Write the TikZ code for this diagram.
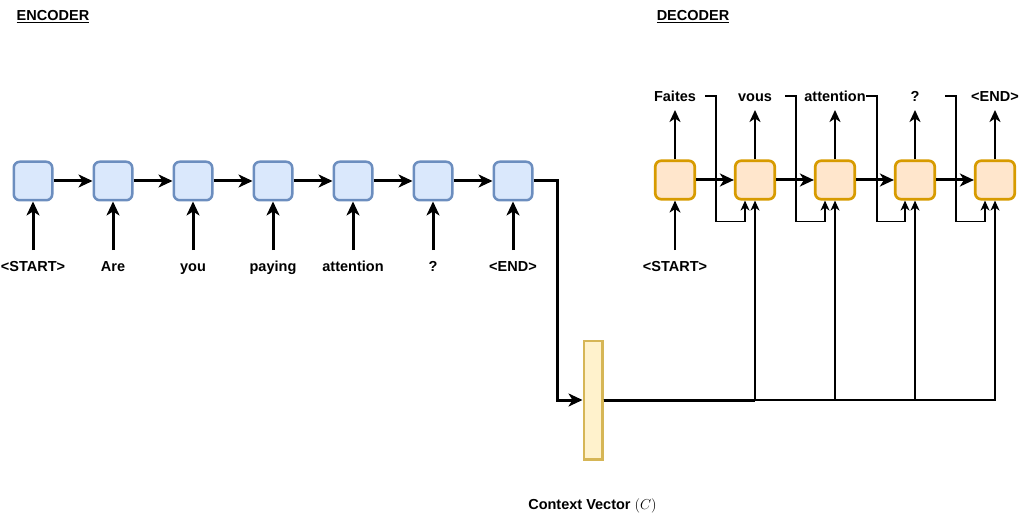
\documentclass[tikz,border=0pt]{standalone}
\usepackage{fontspec}
\setmainfont{Liberation Sans}
\usetikzlibrary{arrows.meta}

\definecolor{encfill}{HTML}{DAE8FC}
\definecolor{encline}{HTML}{6C8EBF}
\definecolor{decfill}{HTML}{FFE6CC}
\definecolor{decline}{HTML}{D79B00}
\definecolor{ctxfill}{HTML}{FFF2CC}
\definecolor{ctxline}{HTML}{D6B656}

\tikzset{
    encbox/.style={draw=encline, fill=encfill, line width=2.5pt, rounded corners=6pt,
                   minimum width=38.5pt, minimum height=38.5pt, inner sep=0pt},
    decbox/.style={draw=decline, fill=decfill, line width=2.7pt, rounded corners=6pt,
                   minimum width=39.5pt, minimum height=38.5pt, inner sep=0pt},
    ctxbox/.style={draw=ctxline, fill=ctxfill, line width=2.5pt,
                   minimum width=18.5pt, minimum height=118.5pt, inner sep=0pt},
    word/.style={font=\fontsize{14.5}{17}\selectfont\bfseries, minimum width=60pt,
                 inner sep=0pt, text height=10.4pt, text depth=0pt},
    bigarrow/.style={line width=3pt, -{Stealth[length=14pt, width=13pt, inset=4pt]}},
    midarrow/.style={line width=2.2pt, -{Stealth[length=12pt, width=11pt, inset=3.5pt]}},
    smallarrow/.style={line width=1.5pt, -{Stealth[length=10pt, width=9pt, inset=3pt]}},
}

\begin{document}
\begin{tikzpicture}[x=1pt, y=-1pt]
    \useasboundingbox (0,0) rectangle (1026,524);

    % Titles
    \node[word] (enctitle) at (53, 15.5)  {\underline{ENCODER}};
    \node[word] (dectitle) at (693, 15.5) {\underline{DECODER}};

    % Encoder cells
    \node[encbox] (e1) at (33, 181)  {};
    \node[encbox] (e2) at (113, 181) {};
    \node[encbox] (e3) at (193, 181) {};
    \node[encbox] (e4) at (273, 181) {};
    \node[encbox] (e5) at (353, 181) {};
    \node[encbox] (e6) at (433, 181) {};
    \node[encbox] (e7) at (513, 181) {};

    % Encoder inputs
    \node[word] (x1) at (33, 266)  {<START>};
    \node[word] (x2) at (113, 266) {Are};
    \node[word] (x3) at (193, 266) {you};
    \node[word] (x4) at (273, 266) {paying};
    \node[word] (x5) at (353, 266) {attention};
    \node[word] (x6) at (433, 266) {?};
    \node[word] (x7) at (513, 266) {<END>};

    \draw[bigarrow] (x1.north |- 0,250) -- (e1.south);
    \draw[bigarrow] (x2.north |- 0,250) -- (e2.south);
    \draw[bigarrow] (x3.north |- 0,250) -- (e3.south);
    \draw[bigarrow] (x4.north |- 0,250) -- (e4.south);
    \draw[bigarrow] (x5.north |- 0,250) -- (e5.south);
    \draw[bigarrow] (x6.north |- 0,250) -- (e6.south);
    \draw[bigarrow] (x7.north |- 0,250) -- (e7.south);

    \draw[bigarrow] (e1) -- (e2);
    \draw[bigarrow] (e2) -- (e3);
    \draw[bigarrow] (e3) -- (e4);
    \draw[bigarrow] (e4) -- (e5);
    \draw[bigarrow] (e5) -- (e6);
    \draw[bigarrow] (e6) -- (e7);

    % Context vector
    \node[ctxbox] (C) at (593, 400) {};
    \node[word] (ctxlabel) at (592.5, 504.5) {Context Vector $(C)$};
    \draw[bigarrow] (e7.east) -- ++(24,0) |- (C.west);

    % Decoder cells
    \node[decbox] (d1) at (675, 180) {};
    \node[decbox] (d2) at (755, 180) {};
    \node[decbox] (d3) at (835, 180) {};
    \node[decbox] (d4) at (915, 180) {};
    \node[decbox] (d5) at (995, 180) {};

    \draw[bigarrow] (d1) -- (d2);
    \draw[bigarrow] (d2) -- (d3);
    \draw[bigarrow] (d3) -- (d4);
    \draw[bigarrow] (d4) -- (d5);

    % Decoder input and outputs
    \node[word] (s1) at (675, 266) {<START>};
    \draw[midarrow, line width=1.5pt] (s1.north |- 0,250) -- (d1.south);

    \node[word] (y1) at (675, 96) {Faites};
    \node[word] (y2) at (755, 96) {vous};
    \node[word] (y3) at (835, 96) {attention};
    \node[word] (y4) at (915, 96) {?};
    \node[word] (y5) at (995, 96) {<END>};

    \draw[midarrow] (d1.north) -- (y1.south |- 0,110);
    \draw[midarrow] (d2.north) -- (y2.south |- 0,110);
    \draw[midarrow] (d3.north) -- (y3.south |- 0,110);
    \draw[midarrow] (d4.north) -- (y4.south |- 0,110);
    \draw[midarrow] (d5.north) -- (y5.south |- 0,110);

    % Feed previous output back in
    \draw[smallarrow] (y1.east) -- ++(11,0) |- ([xshift=-10pt, yshift=-21pt]d2.south) -- ([xshift=-10pt]d2.south);
    \draw[smallarrow] (y2.east) -- ++(11,0) |- ([xshift=-10pt, yshift=-21pt]d3.south) -- ([xshift=-10pt]d3.south);
    \draw[smallarrow] (y3.east) -- ++(11,0) |- ([xshift=-10pt, yshift=-21pt]d4.south) -- ([xshift=-10pt]d4.south);
    \draw[smallarrow] (y4.east) -- ++(11,0) |- ([xshift=-10pt, yshift=-21pt]d5.south) -- ([xshift=-10pt]d5.south);

    % Context vector into every later cell
    \draw[line width=3pt] (C.east) -- (d2.south |- C.east);
    \draw[smallarrow] (C.east) -| (d2.south);
    \draw[smallarrow] (C.east) -| (d3.south);
    \draw[smallarrow] (C.east) -| (d4.south);
    \draw[smallarrow] (C.east) -| (d5.south);
\end{tikzpicture}
\end{document}
